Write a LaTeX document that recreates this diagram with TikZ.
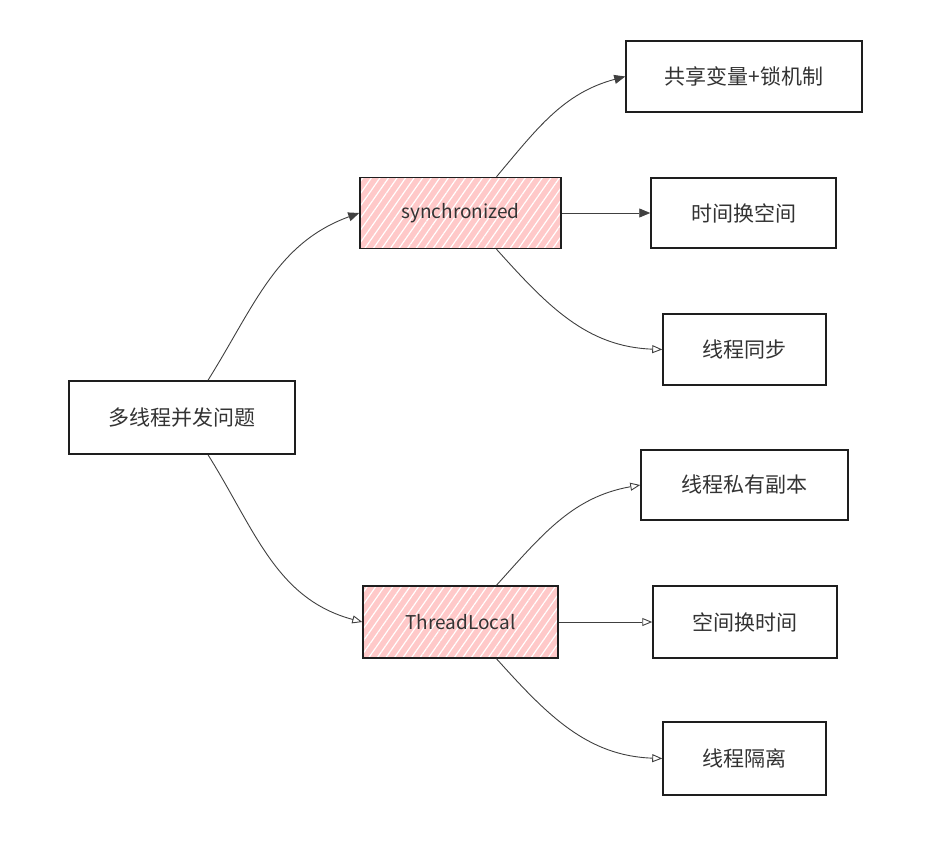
\documentclass[tikz,border=0pt]{standalone}
\usepackage{fontspec}
\setmainfont{Noto Sans CJK SC}
\usetikzlibrary{arrows.meta,patterns.meta}
\definecolor{ink}{HTML}{1E1E1E}
\definecolor{txt}{HTML}{333333}
\definecolor{pinkfill}{HTML}{FFC9C9}
\tikzset{
  box/.style={draw=ink, line width=1.5pt, fill=white, text=txt, inner sep=0pt,
    font=\fontsize{21}{25}\selectfont},
  hot/.style={draw=ink, line width=1.5pt, text=txt, inner sep=0pt,
    font=\fontsize{19}{23}\selectfont,
    preaction={fill=pinkfill},
    preaction={pattern={Lines[angle=55,distance=7pt,line width=1.2pt]}, pattern color=white}},
  link/.style={draw=ink!85, line width=0.9pt},
  fullhead/.style={-{Triangle[length=11pt,width=9pt]}},
  openhead/.style={-{Triangle[open,length=10pt,width=8pt]}}
}
\begin{document}
\begin{tikzpicture}[x=1pt,y=-1pt]
\useasboundingbox (0,0) rectangle (939,867);
\node[box, minimum width=226pt, minimum height=73pt] (root) at (182,417.5) {多线程并发问题};
\node[hot, minimum width=201pt, minimum height=71pt] (sync) at (460.5,213) {synchronized};
\node[hot, minimum width=195pt, minimum height=72pt] (tl) at (460.5,622) {ThreadLocal};
\node[box, minimum width=236pt, minimum height=71pt] (a1) at (744,76.5) {共享变量+锁机制};
\node[box, minimum width=185pt, minimum height=70pt] (a2) at (743.5,213) {时间换空间};
\node[box, minimum width=163pt, minimum height=71pt] (a3) at (744.5,349.5) {线程同步};
\node[box, minimum width=207pt, minimum height=70pt] (b1) at (744.5,485) {线程私有副本};
\node[box, minimum width=184pt, minimum height=72pt] (b2) at (745,622) {空间换时间};
\node[box, minimum width=163pt, minimum height=73pt] (b3) at (744.5,758.5) {线程隔离};

\draw[link, fullhead] ([xshift=26pt]root.north) to[out=58,in=200] (sync.west);
\draw[link, openhead] ([xshift=26pt]root.south) to[out=-58,in=165] (tl.west);
\draw[link, fullhead] ([xshift=36pt]sync.north) to[out=50,in=195] (a1.west);
\draw[link, fullhead] (sync.east) -- (a2.west);
\draw[link, openhead] ([xshift=36pt]sync.south) to[out=-48,in=178] (a3.west);
\draw[link, openhead] ([xshift=36pt]tl.north) to[out=48,in=190] (b1.west);
\draw[link, openhead] (tl.east) -- (b2.west);
\draw[link, openhead] ([xshift=36pt]tl.south) to[out=-48,in=178] (b3.west);
\end{tikzpicture}
\end{document}
